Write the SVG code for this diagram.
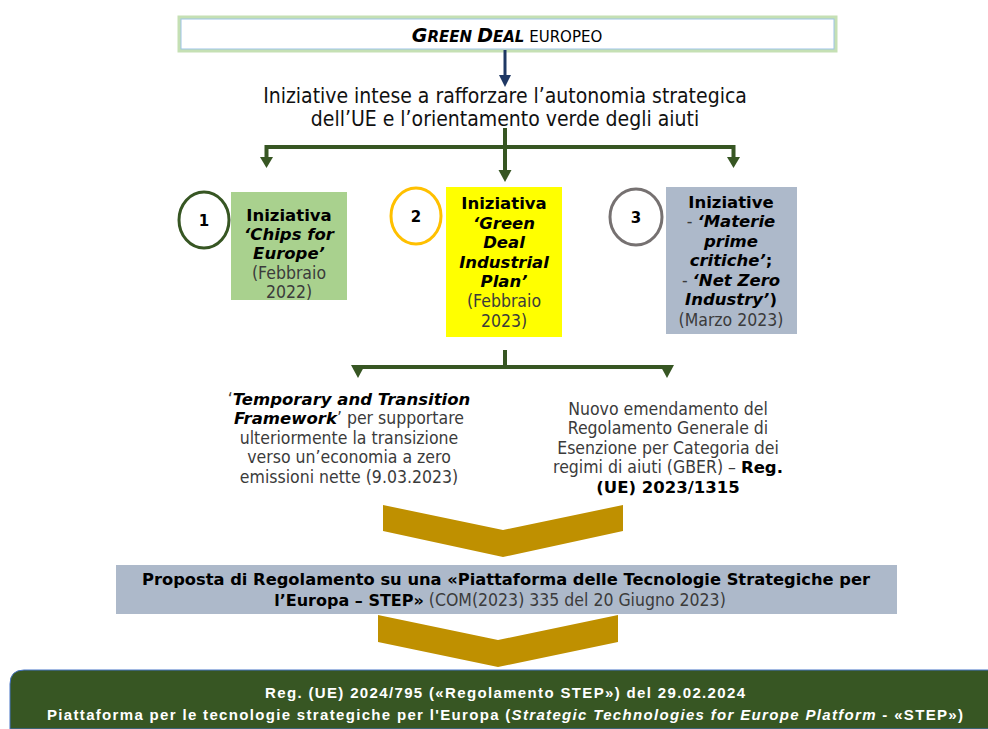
<svg xmlns="http://www.w3.org/2000/svg" width="988" height="729" viewBox="0 0 988 729">
<defs>
<style>
.t{font-family:"DejaVu Sans Condensed","DejaVu Sans",sans-serif;font-size:17.5px;fill:#3b3b3b;text-anchor:middle}
.b{font-family:"DejaVu Sans",sans-serif;font-size:16.5px;font-weight:bold;fill:#000}
.bi{font-family:"DejaVu Sans",sans-serif;font-size:16.5px;font-weight:bold;font-style:italic;fill:#000}
.g{stroke:#375623;stroke-width:4;fill:none}
.gh{fill:#375623}
.chev{fill:#BF9000}
.w{font-family:"Liberation Sans",Arial,sans-serif;font-size:15px;font-weight:bold;fill:#fff;text-anchor:middle}
</style>
</defs>
<rect width="988" height="729" fill="#fff"/>

<g id="green-deal">
<rect x="180" y="18" width="655" height="32" fill="#fff" stroke="#C5E0B4" stroke-width="5"/>
<rect x="181" y="19" width="653" height="30" fill="#fff" stroke="#9DC3E6" stroke-width="1"/>
<text x="507" y="42" style="font-family:'DejaVu Sans',sans-serif;fill:#000;text-anchor:middle"><tspan font-size="19" font-weight="bold" font-style="italic">G</tspan><tspan font-size="15" font-weight="bold" font-style="italic">REEN </tspan><tspan font-size="19" font-weight="bold" font-style="italic">D</tspan><tspan font-size="15" font-weight="bold" font-style="italic">EAL</tspan><tspan font-size="15"> EUROPEO</tspan></text>
</g>

<g id="iniziative-text">
<text class="t" x="505" y="103" style="font-size:21px;fill:#111">Iniziative intese a rafforzare l’autonomia strategica</text>
<text class="t" x="505" y="126" style="font-size:21px;fill:#111">dell’UE e  l’orientamento verde degli aiuti</text>
</g>

<g id="connectors">
<line x1="505" y1="50" x2="505" y2="76" stroke="#1F3864" stroke-width="3"/>
<polygon points="499,75 511,75 505,87" fill="#1F3864"/>
<path class="g" d="M266.5,158 V147 H733.5 V158"/>
<path class="g" d="M505,128 V171"/>
<polygon class="gh" points="260,157 273,157 266.5,168"/>
<polygon class="gh" points="498.5,170 511.5,170 505,182"/>
<polygon class="gh" points="727,157 740,157 733.5,168"/>
<path class="g" d="M505,350 V367"/>
<path class="g" d="M356,367 H669"/>
<polygon class="gh" points="351,365 365,365 358,378"/>
<polygon class="gh" points="660,365 674,365 667,378"/>
</g>

<g id="circle-1"><ellipse cx="204" cy="220" rx="25" ry="28" fill="#fff" stroke="#375623" stroke-width="3"/><text class="t b" x="204" y="226" style="font-size:15px">1</text></g>
<g id="circle-2"><ellipse cx="416" cy="216" rx="25" ry="28" fill="#fff" stroke="#FFC000" stroke-width="3"/><text class="t b" x="416" y="222" style="font-size:15px">2</text></g>
<g id="circle-3"><ellipse cx="636" cy="217" rx="26" ry="28" fill="#fff" stroke="#767171" stroke-width="3"/><text class="t b" x="636" y="223" style="font-size:15px">3</text></g>

<g id="box-1">
<rect x="231" y="192" width="116" height="108" fill="#A9D18E"/>
<text class="t b" x="289" y="221">Iniziativa</text>
<text class="t bi" x="289" y="240">‘Chips for</text>
<text class="t bi" x="289" y="259">Europe’</text>
<text class="t" x="289" y="279">(Febbraio</text>
<text class="t" x="289" y="298">2022)</text>
</g>

<g id="box-2">
<rect x="446" y="187" width="116" height="150" fill="#FFFF00"/>
<text class="t b" x="504" y="209">Iniziativa</text>
<text class="t bi" x="504" y="229">‘Green</text>
<text class="t bi" x="504" y="248">Deal</text>
<text class="t bi" x="504" y="268">Industrial</text>
<text class="t bi" x="504" y="287">Plan’</text>
<text class="t" x="504" y="307">(Febbraio</text>
<text class="t" x="504" y="327">2023)</text>
</g>

<g id="box-3">
<rect x="666" y="187" width="131" height="147" fill="#ADB9CA"/>
<text class="t b" x="731" y="208">Iniziative</text>
<text class="t" x="731" y="227">- <tspan class="bi">‘Materie</tspan></text>
<text class="t bi" x="731" y="247">prime</text>
<text class="t bi" x="731" y="266">critiche’<tspan style="font-style:normal">;</tspan></text>
<text class="t" x="731" y="286">- <tspan class="bi">‘Net Zero</tspan></text>
<text class="t bi" x="731" y="305">Industry’<tspan style="font-style:normal">)</tspan></text>
<text class="t" x="731" y="326">(Marzo 2023)</text>
</g>

<g id="temporary-framework">
<text class="t" x="349" y="405">‘<tspan class="bi">Temporary and Transition</tspan></text>
<text class="t" x="349" y="424"><tspan class="bi">Framework</tspan>’ per supportare</text>
<text class="t" x="349" y="444">ulteriormente la transizione</text>
<text class="t" x="349" y="463">verso un’economia a zero</text>
<text class="t" x="349" y="483">emissioni nette (9.03.2023)</text>
</g>

<g id="gber">
<text class="t" x="668" y="415">Nuovo emendamento del</text>
<text class="t" x="668" y="434">Regolamento Generale di</text>
<text class="t" x="668" y="454">Esenzione per Categoria dei</text>
<text class="t" x="668" y="473">regimi di aiuti (GBER) – <tspan class="b">Reg.</tspan></text>
<text class="t b" x="668" y="493">(UE) 2023/1315</text>
</g>

<g id="chevron-1"><polygon class="chev" points="383,505 503,530 623,505 623,531 503,557 383,531"/></g>

<g id="step-proposal">
<rect x="116" y="565" width="781" height="49" fill="#ADB9CA"/>
<text class="t b" x="506" y="585" textLength="728" lengthAdjust="spacingAndGlyphs" style="font-size:16px">Proposta di Regolamento su una «Piattaforma delle Tecnologie Strategiche per</text>
<text class="t" x="500" y="606" style="font-size:17.5px"><tspan class="b" style="font-size:16px">l’Europa – STEP»</tspan> (COM(2023)  335 del 20 Giugno 2023)</text>
</g>

<g id="chevron-2"><polygon class="chev" points="378,615 498,640 618,615 618,642 498,667 378,642"/></g>

<g id="step-regulation">
<path d="M10,729 V684 Q10,670 24,670 H990 V729 Z" fill="#375623" stroke="#4472C4" stroke-width="1"/>
<text class="w" x="505" y="698" textLength="480" lengthAdjust="spacing">Reg. (UE) 2024/795 («Regolamento STEP») del 29.02.2024</text>
<text class="w" x="505" y="720" textLength="916" lengthAdjust="spacing">Piattaforma per le tecnologie strategiche per l'Europa (<tspan font-style="italic">Strategic Technologies for Europe Platform</tspan> - «STEP»)</text>
</g>
</svg>
